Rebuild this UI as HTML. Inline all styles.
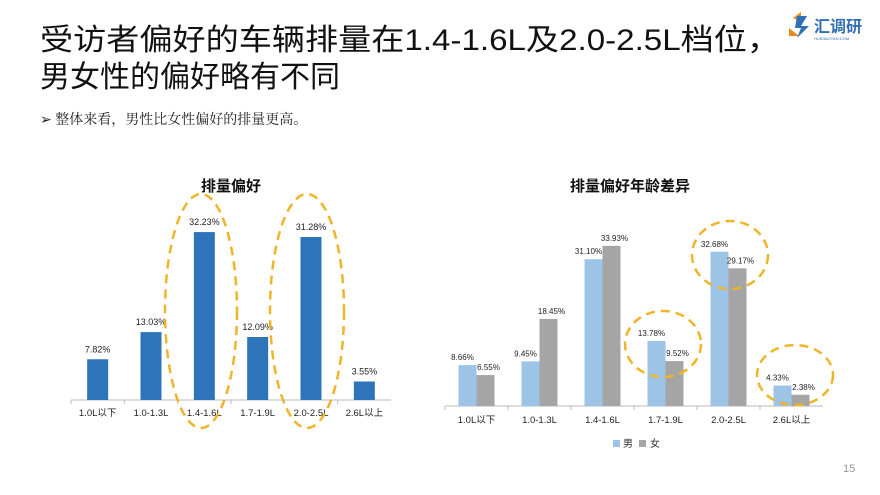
<!DOCTYPE html>
<html><head><meta charset="utf-8"><style>
body{margin:0;width:880px;height:495px;background:#fff;overflow:hidden;font-family:"Liberation Sans","Noto Sans CJK SC",sans-serif;}
</style></head><body>
<svg width="880" height="495" xmlns="http://www.w3.org/2000/svg" style="position:absolute;left:0;top:0">
<text x="40" y="50" font-size="30" fill="#111" font-family="Liberation Sans, Noto Sans CJK SC, sans-serif" textLength="740" lengthAdjust="spacingAndGlyphs">受访者偏好的车辆排量在1.4-1.6L及2.0-2.5L档位，</text>
<text x="40" y="87" font-size="30" fill="#111" font-family="Liberation Sans, Noto Sans CJK SC, sans-serif">男女性的偏好略有不同</text>
<g>
<path d="M793 18 l8 -6 l0 10 z M789 28 l10 8 l-10 0 z" fill="#e98a1f"/>
<path d="M797 16 l10 0 l-6 10 l8 0 l-12 12 l4 -10 l-6 0 z" fill="#2f6fb5"/>
<text x="814" y="32" font-size="16" font-weight="bold" fill="#2f6fb5" font-family="Liberation Sans, Noto Sans CJK SC, sans-serif">汇调研</text>
<text x="814" y="40" font-size="4" fill="#2f6fb5">HUIDIAOYAN.COM</text>
</g>
<text x="40" y="124" font-size="14" fill="#222" font-family="Liberation Serif, Noto Serif CJK SC, serif">➢  整体来看，男性比女性偏好的排量更高。</text>
<text x="843" y="472" font-size="11" fill="#999">15</text>
<g id="left"></g>
<g id="right"></g>
</svg>
<script>
const cats=["1.0L以下","1.0-1.3L","1.4-1.6L","1.7-1.9L","2.0-2.5L","2.6L以上"];
const overall=[7.82,13.03,32.23,12.09,31.28,3.55];
const male=[8.66,9.45,31.10,13.78,32.68,4.33];
const female=[6.55,18.45,33.93,9.52,29.17,2.38];
const NS="http://www.w3.org/2000/svg";
function mk(p,t,a,txt){const e=document.createElementNS(NS,t);for(const k in a)e.setAttribute(k,a[k]);if(txt!==undefined)e.textContent=txt;p.appendChild(e);return e;}
const FF="Liberation Sans, Noto Sans CJK SC, sans-serif";
// left chart
const L=document.getElementById('left');
const lx0=71,lx1=391,lb=400,ls=5.21,lw=(lx1-lx0)/cats.length;
let t=mk(L,'text',{x:231,y:191,'font-size':15,'font-weight':'bold','text-anchor':'middle',fill:'#111','font-family':FF},'排量偏好');


let ax=mk(L,'line',{x1:lx0,y1:lb,x2:lx1,y2:lb,stroke:'#bbb'});


cats.forEach((c,i)=>{
 const cx=lx0+lw*(i+0.5),h=overall[i]*ls;
 const tk=mk(L,'line',{x1:lx0+lw*i,y1:lb,x2:lx0+lw*i,y2:lb+4,stroke:'#bbb'});
 
 
 const r=mk(L,'rect',{x:cx-10.5,y:lb-h,width:21,height:h,fill:'#2e74b8'});
 
 
 const v=mk(L,'text',{x:cx,y:lb-h-7,'font-size':9,'text-anchor':'middle',fill:'#222','font-family':FF},overall[i].toFixed(2)+'%');
 
 
 const lb2=mk(L,'text',{x:cx,y:lb+16,'font-size':9.5,'text-anchor':'middle',fill:'#222','font-family':FF},c);
 
 
});
[[201,311,36,117],[307,311,37,117]].forEach(e=>{
 const el=mk(L,'ellipse',{cx:e[0],cy:e[1],rx:e[2],ry:e[3],fill:'none',stroke:'#f0b429','stroke-width':2.5,'stroke-dasharray':'9 6'});
 
 
});
// right chart
const R=document.getElementById('right');
const rx0=445,rx1=823,rb=406,rs=4.72,rw=(rx1-rx0)/cats.length;
t=mk(R,'text',{x:630,y:191,'font-size':15,'font-weight':'bold','text-anchor':'middle',fill:'#111','font-family':FF},'排量偏好年龄差异');


ax=mk(R,'line',{x1:rx0,y1:rb,x2:rx1,y2:rb,stroke:'#bbb'});


cats.forEach((c,i)=>{
 const cx=rx0+rw*(i+0.5);
 const tk=mk(R,'line',{x1:rx0+rw*i,y1:rb,x2:rx0+rw*i,y2:rb+4,stroke:'#bbb'});
 
 
 const hm=male[i]*rs,hf=female[i]*rs;
 const m=mk(R,'rect',{x:cx-18,y:rb-hm,width:18,height:hm,fill:'#9dc3e6'});
 
 
 const f=mk(R,'rect',{x:cx,y:rb-hf,width:18,height:hf,fill:'#a5a5a5'});
 
 
 const vm=mk(R,'text',{x:cx-14,y:rb-hm-5,'font-size':8,'text-anchor':'middle',fill:'#222','font-family':FF},male[i].toFixed(2)+'%');
 
 
 const vf=mk(R,'text',{x:cx+12,y:rb-hf-5,'font-size':8,'text-anchor':'middle',fill:'#222','font-family':FF},female[i].toFixed(2)+'%');
 
 
 const cl=mk(R,'text',{x:cx,y:rb+17,'font-size':9.5,'text-anchor':'middle',fill:'#222','font-family':FF},c);
 
 
});
[[730,255,38,34],[663,344,38,33],[795,375,38,30]].forEach(e=>{
 const el=mk(R,'ellipse',{cx:e[0],cy:e[1],rx:e[2],ry:e[3],fill:'none',stroke:'#f0b429','stroke-width':2.5,'stroke-dasharray':'9 6'});
 
 
});
const lg=mk(R,'g',{});


mk(lg,'rect',{x:613,y:440,width:7,height:7,fill:'#9dc3e6'});
mk(lg,'text',{x:623,y:447,'font-size':10,fill:'#333','font-family':FF},'男');
mk(lg,'rect',{x:639,y:440,width:7,height:7,fill:'#a5a5a5'});
mk(lg,'text',{x:650,y:447,'font-size':10,fill:'#333','font-family':FF},'女');
</script>
</body></html>
